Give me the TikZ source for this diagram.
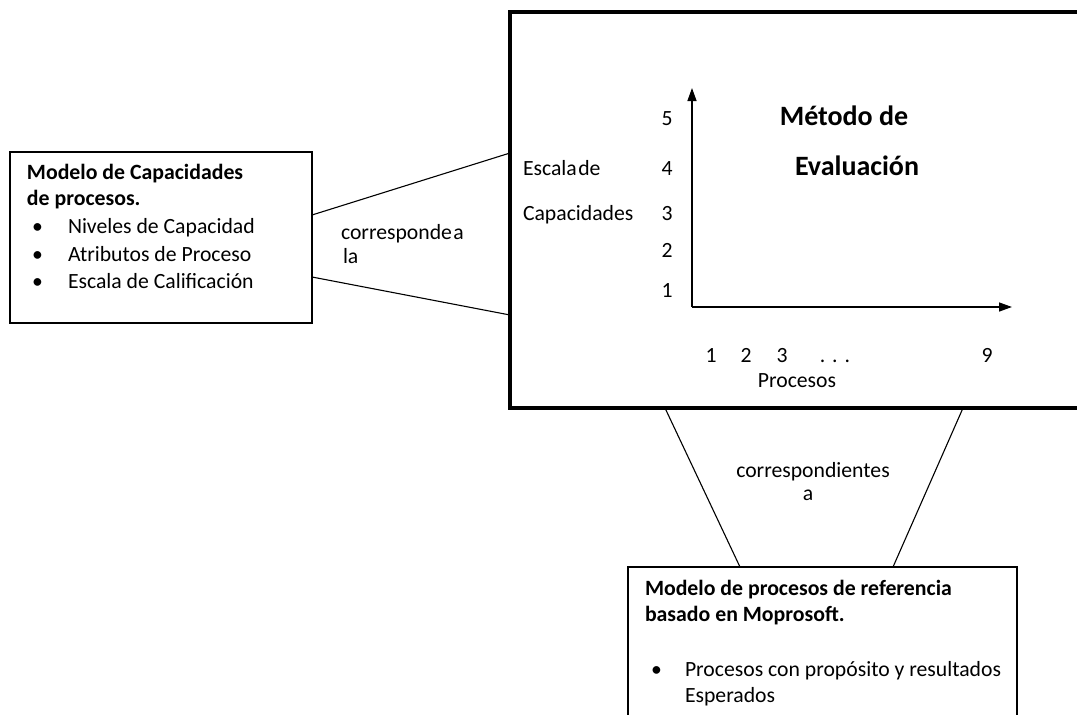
\documentclass[tikz,border=0pt]{standalone}
\usepackage{fontspec}
\setmainfont{Carlito}
\usetikzlibrary{arrows.meta}
\begin{document}
\begin{tikzpicture}[x=1pt,y=-1pt,
  every node/.style={inner sep=0pt, outer sep=0pt},
  txt/.style={anchor=base west, font=\fontsize{21.7}{25}\selectfont},
  ctxt/.style={anchor=base, font=\fontsize{21.7}{25}\selectfont},
  bold/.style={anchor=base west, font=\fontsize{21.8}{25}\selectfont\bfseries},
  title/.style={anchor=base, font=\fontsize{28}{31}\selectfont\bfseries},
  frame/.style={draw, line width=2.8pt, anchor=north west},
  link/.style={line width=1.1pt},
  axis/.style={line width=1.4pt, -{Triangle[length=13pt,width=9pt]}}]

\useasboundingbox (0,0) rectangle (1077,715);
\clip (0,0) rectangle (1077,715);

% frames
\node[frame, minimum width=302pt, minimum height=171pt] (capbox) at (10,152) {};
\node[frame, line width=3.6pt, minimum width=600pt, minimum height=396pt] (evalbox) at (510,12) {};
\node[frame, minimum width=389pt, minimum height=200pt] (modbox) at (628,567) {};

% capability model
\node[bold] (cap1) at (27,179) {Modelo de Capacidades};
\node[bold] (cap2) at (27,205) {de procesos.};
\node[txt] (b1) at (32,233) {•};
\node[txt] (b2) at (32,261) {•};
\node[txt] (b3) at (32,288) {•};
\node[txt] (i1) at (68,233) {Niveles de Capacidad};
\node[txt] (i2) at (68,261) {Atributos de Proceso};
\node[txt] (i3) at (68,288) {Escala de Calificación};

% links to the evaluation method
\draw[link] (capbox.east |- 0,215) -- (evalbox.west |- 0,153);
\draw[link] (capbox.east |- 0,277) -- (evalbox.west |- 0,315);
\node[txt] (lab1) at (341,239) {corresponde\hspace{1.5pt}a};
\node[txt] (lab2) at (343,263) {la};

% evaluation chart
\coordinate (origin) at (692,307);
\coordinate (ytip) at (692,88);
\coordinate (xtip) at (1012,307);
\draw[axis] (origin) -- (ytip);
\draw[axis] (origin) -- (xtip);

\node[ctxt] (y5) at (667,125) {5};
\node[ctxt] (y4) at (667,175) {4};
\node[ctxt] (y3) at (667,220) {3};
\node[ctxt] (y2) at (667,257) {2};
\node[ctxt] (y1) at (667,297) {1};
\node[txt] (ylab1) at (523,175) {Escala\hspace{1.5pt}de};
\node[txt] (ylab2) at (523,220) {Capacidades};

\node[title] (t1) at (844,125) {Método de};
\node[title] (t2) at (857,175) {Evaluación};

\node[ctxt] (x1) at (711,362) {1};
\node[ctxt] (x2) at (746,362) {2};
\node[ctxt] (x3) at (782,362) {3};
\node[ctxt] (xd) at (835,362) {.\hspace{7pt}.\hspace{7pt}.};
\node[ctxt] (x9) at (987,362) {9};
\node[ctxt] (xlab) at (797,387) {Procesos};

% links to the reference process model
\draw[link] (evalbox.south -| 665,0) -- (modbox.north -| 740,0);
\draw[link] (evalbox.south -| 963,0) -- (modbox.north -| 893,0);
\node[ctxt] (lab3) at (813,477) {correspondientes};
\node[ctxt] (lab4) at (808,500) {a};

% reference process model
\node[bold] (m1) at (645,595) {Modelo de procesos de referencia};
\node[bold] (m2) at (645,621) {basado en Moprosoft.};
\node[txt] (mb) at (651,676) {•};
\node[txt] (mi1) at (685,676) {Procesos con propósito y resultados};
\node[txt] (mi2) at (685,702) {Esperados};
\end{tikzpicture}
\end{document}
